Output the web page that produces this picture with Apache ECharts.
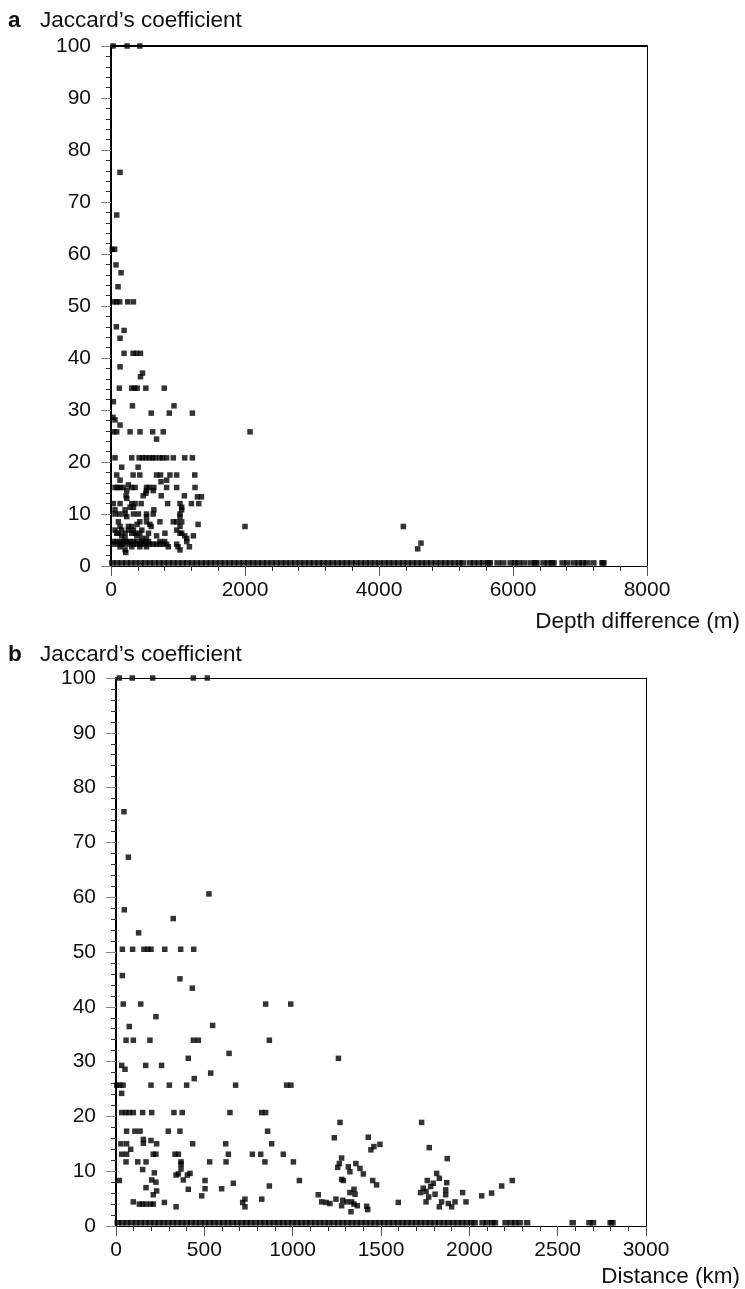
<!DOCTYPE html>
<html>
<head>
<meta charset="utf-8">
<script src="https://cdn.jsdelivr.net/npm/echarts@6/dist/echarts.min.js"></script>
<style>
  html, body { margin: 0; padding: 0; background: #fff; }
  #chart { width: 745px; height: 1289px; }
</style>
</head>
<body>
<div id="chart"></div>
<script>
// Panel a: Jaccard's coefficient vs depth difference (m)
const depthPoints = [
  [30,100],[240,100],[430,100],
  [135,75.7],[85,67.5],[20,60.9],[55,60.9],[75,57.9],[150,56.4],[105,53.7],
  [40,50.8],[85,50.8],[130,50.8],[250,50.8],[335,50.8],
  [80,46],[195,45.3],[135,43.8],
  [195,40.9],[330,40.9],[380,40.9],[440,40.9],
  [135,38.3],[440,36.4],[470,37.1],
  [125,34.2],[310,34.2],[350,34.2],[390,34.2],[520,34.2],[795,34.2],
  [35,31.6],[320,30.8],[940,30.8],
  [600,29.4],[870,29.4],[1215,29.4],[30,28.6],[60,28.1],[135,27.1],
  [40,25.8],[85,25.8],[285,25.8],[433,25.8],[622,25.8],[780,25.8],[2075,25.8],
  [680,24.4],
  [60,20.8],[310,20.8],[420,20.8],[470,20.8],[520,20.8],[570,20.8],[620,20.8],[660,20.8],
  [730,20.8],[770,20.8],[830,20.8],[930,20.8],[1100,20.8],[1215,20.8],
  [160,19],[405,19],
  [85,17.5],[330,17.5],[430,17.5],[680,17.5],[740,17.5],[880,17.5],[980,17.5],[1250,17.5],
  [135,16.5],[830,16.5],[746,16.2],[260,15.6],
  [60,15.1],[95,15.1],[140,15.1],[180,15.1],[310,15.1],[360,15.1],[530,15.1],[570,15.1],
  [640,15.1],[830,15.1],[980,15.1],[1254,15.1],
  [235,14.5],[530,14.5],[630,14.5],[520,14],
  [225,13.5],[480,13.5],[750,13.5],[1095,13.5],[1290,13.3],[1350,13.3],[235,13],
  [35,12],[135,12],[310,12],[360,12],[450,12],[845,12],[1030,12],[1200,12],[1310,12],
  [285,11.3],[335,11.3],[1055,11.3],
  [60,10.8],[210,10.8],[640,10.8],[1055,10.8],
  [60,10],[130,10],[210,10],[335,10],[410,10],[530,10],[630,10],[1030,10],
  [235,9.5],[530,9.5],[1030,9.5],
  [110,8.5],[430,8.5],[530,8.5],[730,8.5],[930,8.5],[980,8.5],[1055,8.5],
  [1300,8],[390,8],[580,8],
  [135,7.6],[260,7.6],[310,7.6],[600,7.6],[1030,7.6],[2000,7.6],
  [60,6.9],[160,6.9],[260,6.9],[335,6.9],[460,6.9],[980,6.9],
  [85,6.3],[110,6.3],[210,6.3],[310,6.3],[360,6.3],[430,6.3],[560,6.3],[805,6.3],[1030,6.3],[1055,6.3],
  [160,5.8],[385,5.8],[680,5.8],[1100,5.8],[1230,5.8],
  [210,5.3],[460,5.3],[530,5.3],[1130,5.3],
  [35,4.7],[85,4.7],[135,4.7],[185,4.7],[235,4.7],[285,4.7],[335,4.7],[385,4.7],
  [460,4.7],[510,4.7],[560,4.7],[730,4.7],[800,4.7],[1130,4.7],
  [35,4.2],[110,4.2],[160,4.2],[210,4.2],[285,4.2],[335,4.2],[385,4.2],[435,4.2],
  [480,4.2],[530,4.2],[580,4.2],[630,4.2],[680,4.2],[730,4.2],[780,4.2],[830,4.2],[980,4.2],
  [135,3.7],[310,3.7],[430,3.7],[530,3.7],[855,3.7],[1000,3.7],[1170,3.7],
  [210,3.1],[1030,3.1],[220,2.6],
  [4363,7.6],[4577,3.3],[4627,4.4]
];

// Pairs with no shared taxa, drawn as a row just above the axis
const ZERO_ROW_LEVEL = 0.6;
const depthZeroRow = [
  20,90,160,230,300,370,440,510,580,650,720,790,860,930,1000,1070,1140,1210,1280,1350,
  1420,1490,1560,1630,1700,1770,1840,1910,1980,2050,2120,2190,2260,2330,2400,2470,2540,
  2610,2680,2750,2820,2890,2960,3030,3100,3170,3240,3310,3380,3450,3520,3590,3660,3730,
  3800,3870,3940,4010,4080,4150,4220,4290,4360,4430,4500,4570,4640,4710,4780,4850,4920,
  4990,5060,5130,5200,5250,
  5355,5420,5490,5560,5630,5655,5770,5855,5965,6030,6080,6165,6265,6330,6350,
  6455,6520,6580,6605,6740,6810,6910,6980,7040,7100,7200,7335,7350
];

// Panel b: Jaccard's coefficient vs distance (km)
const distancePoints = [
  [19,100],[92,100],[208,100],[438,100],[517,100],
  [45,75.6],[70,67.3],[526,60.6],[47,57.7],[324,56.1],[128,53.5],
  [36,50.5],[94,50.5],[158,50.5],[180,50.5],[198,50.5],[276,50.5],[366,50.5],[440,50.5],
  [36,45.7],[362,45.1],[432,43.4],
  [41,40.5],[140,40.5],[847,40.5],[989,40.5],
  [226,38.2],[547,36.6],[75,36.4],
  [57,33.9],[98,33.9],[192,33.9],[438,33.9],[466,33.9],[868,33.9],
  [640,31.5],[409,30.6],[1259,30.6],
  [32,29.3],[51,28.6],[168,29.3],[258,29.3],[536,27.9],[443,26.9],
  [4,25.7],[22,25.7],[40,25.7],[198,25.7],[302,25.7],[400,25.7],[677,25.7],[966,25.7],[990,25.7],
  [32,24.2],
  [32,20.7],[55,20.7],[75,20.7],[98,20.7],[151,20.7],[202,20.7],[328,20.7],[375,20.7],
  [645,20.7],[825,20.7],[847,20.7],
  [1268,18.9],[1730,18.9],
  [60,17.3],[107,17.3],[136,17.3],[296,17.3],[362,17.3],[858,17.3],
  [1236,16.1],[1428,16.2],
  [155,15.8],[155,15.1],[198,15.6],[28,15],[60,15],[230,15],[434,15],[621,15],[881,15],[83,14],
  [1443,13.9],[1460,14.5],[1494,14.9],[1773,14.3],
  [32,13.1],[60,13.1],[211,13.1],[226,13.1],[334,13.1],[353,13.1],[636,13.1],[772,13.1],[819,13.1],[947,13.1],
  [1875,12.3],[1277,12.4],[1264,11.4],[1255,10.7],
  [57,11.7],[123,11.7],[170,11.7],[368,11.7],[530,11.7],[623,11.7],[843,11.7],[1004,11.7],
  [368,11.3],[368,10.4],[151,10.3],
  [1315,10.8],[1324,9.9],[1358,11.4],[1381,10.5],[1400,9.5],
  [217,9.7],[353,9.5],[340,9.3],[419,9.6],[404,9.3],
  [19,8.3],[202,8.4],[226,8.0],[381,8.4],[504,8.3],[1038,8.3],
  [170,7.0],[230,6.4],[211,5.7],[409,6.7],[504,6.8],[598,6.8],[664,7.8],[868,7.3],
  [1277,8.5],[1287,8.3],[1453,8.3],[1475,7.5],
  [1324,6.1],[1347,6.7],[1353,5.8],
  [485,5.5],[825,4.9],[730,4.9],[717,4.3],[730,3.5],
  [1145,5.7],[1164,4.4],[1189,4.3],[1211,4.1],[1245,4.9],
  [98,4.4],[132,4.0],[150,4.0],[170,4.0],[196,4.0],[211,4.0],[274,4.3],[340,3.5],
  [1283,4.7],[1306,4.4],[1277,3.7],[1334,4.4],[1347,4.0],[1366,3.7],[1330,2.6],[1419,3.6],[1425,3.0],
  [1598,4.3],
  [1724,6.1],[1739,6.9],[1755,6.3],[1781,7.2],[1796,7.8],[1815,9.6],[1830,8.7],[1762,8.3],
  [1872,7.9],[1770,5.3],[1755,4.4],[1806,5.8],[1866,6.6],[1866,5.7],[1843,4.4],[1830,3.5],
  [1881,4.1],[1919,4.4],[1900,3.5],[1962,6.1],[1981,4.4],[2070,5.5],[2126,6.0],[2183,7.3],[2243,8.3]
];

const distanceZeroRow = [
  10,36,62,88,114,140,166,192,218,244,270,296,322,348,374,400,426,452,478,504,530,556,
  582,608,634,660,686,712,738,764,790,816,842,868,894,920,946,972,998,1024,1050,1076,
  1102,1128,1154,1180,1206,1232,1258,1284,1310,1336,1362,1388,1414,1440,1466,1492,1518,
  1544,1570,1596,1622,1648,1674,1700,1726,1752,1778,1804,1830,1856,1882,1908,1934,1960,
  1986,2012,2030,
  2075,2100,2130,2145,2205,2235,2260,2285,2327,2585,2680,2700,2800,2810
];

const depthTicks = { min: 0, max: 8000, interval: 2000 };
const distanceTicks = { min: 0, max: 3000, interval: 500 };
const coefTicks = { min: 0, max: 100, interval: 10 };

const FONT = '"Liberation Sans", Arial, Helvetica, sans-serif';
const INK = '#111';
const plain = v => String(v);

function bottomAxis(gridIndex, ticks) {
  return {
    gridIndex, type: 'value', position: 'bottom',
    min: ticks.min, max: ticks.max, interval: ticks.interval,
    axisLine: { show: true, onZero: false, lineStyle: { color: '#000', width: 1 } },
    axisTick: { show: true, length: 10, lineStyle: { color: '#555', width: 1 } },
    minorTick: { show: true, splitNumber: 5, length: 5, lineStyle: { color: '#333', width: 1 } },
    splitLine: { show: false },
    axisLabel: { fontSize: 21, color: INK, margin: 14, fontFamily: FONT, formatter: plain }
  };
}
function topBorder(gridIndex, ticks, width) {
  return {
    gridIndex, type: 'value', position: 'top',
    min: ticks.min, max: ticks.max,
    axisLine: { show: true, onZero: false, lineStyle: { color: '#000', width } },
    axisTick: { show: false }, axisLabel: { show: false }, splitLine: { show: false }
  };
}
function leftAxis(gridIndex) {
  return {
    gridIndex, type: 'value', position: 'left',
    min: coefTicks.min, max: coefTicks.max, interval: coefTicks.interval,
    axisLine: { show: true, onZero: false, lineStyle: { color: '#000', width: 2 } },
    axisTick: { show: true, length: 10, lineStyle: { color: '#888', width: 1 } },
    minorTick: { show: true, splitNumber: 5, length: 5, lineStyle: { color: '#333', width: 1 } },
    splitLine: { show: false },
    axisLabel: { fontSize: 21, color: INK, margin: 20, fontFamily: FONT, formatter: plain }
  };
}
function rightBorder(gridIndex) {
  return {
    gridIndex, type: 'value', position: 'right',
    min: coefTicks.min, max: coefTicks.max,
    axisLine: { show: true, onZero: false, lineStyle: { color: '#000', width: 1 } },
    axisTick: { show: false }, axisLabel: { show: false }, splitLine: { show: false }
  };
}
function scatter(xAxisIndex, yAxisIndex, data, size) {
  return {
    type: 'scatter', xAxisIndex, yAxisIndex, data,
    symbol: 'rect', symbolSize: size, clip: false,
    itemStyle: { color: '#000' }, silent: true
  };
}
const textStyle = (extra) => Object.assign({ fontSize: 22.5, color: INK, fontFamily: FONT, fontWeight: 'normal' }, extra || {});

const chart = echarts.init(document.getElementById('chart'), null, { renderer: 'canvas' });
chart.setOption({
  animation: false,
  backgroundColor: '#fff',
  title: [
    { text: 'a', left: 8, top: 9, padding: 0, textStyle: textStyle({ fontWeight: 'bold' }) },
    { text: 'Jaccard’s coefficient', left: 40, top: 9, padding: 0, textStyle: textStyle() },
    { text: 'Depth difference (m)', right: 5, top: 610, padding: 0, textStyle: textStyle() },
    { text: 'b', left: 8, top: 643, padding: 0, textStyle: textStyle({ fontWeight: 'bold' }) },
    { text: 'Jaccard’s coefficient', left: 40, top: 643, padding: 0, textStyle: textStyle() },
    { text: 'Distance (km)', right: 5, top: 1265, padding: 0, textStyle: textStyle() }
  ],
  grid: [
    { left: 111, top: 46, width: 536, height: 520 },
    { left: 116, top: 678, width: 530, height: 548 }
  ],
  xAxis: [
    bottomAxis(0, depthTicks), topBorder(0, depthTicks, 2),
    bottomAxis(1, distanceTicks), topBorder(1, distanceTicks, 1)
  ],
  yAxis: [
    leftAxis(0), rightBorder(0),
    leftAxis(1), rightBorder(1)
  ],
  series: [
    scatter(0, 0, depthZeroRow.map(x => [x, ZERO_ROW_LEVEL]), [6.5, 5.5]),
    scatter(0, 0, depthPoints, 5.5),
    scatter(2, 2, distanceZeroRow.map(x => [x, ZERO_ROW_LEVEL]), [6.5, 5.5]),
    scatter(2, 2, distancePoints, 5.5)
  ]
});
</script>
</body>
</html>
